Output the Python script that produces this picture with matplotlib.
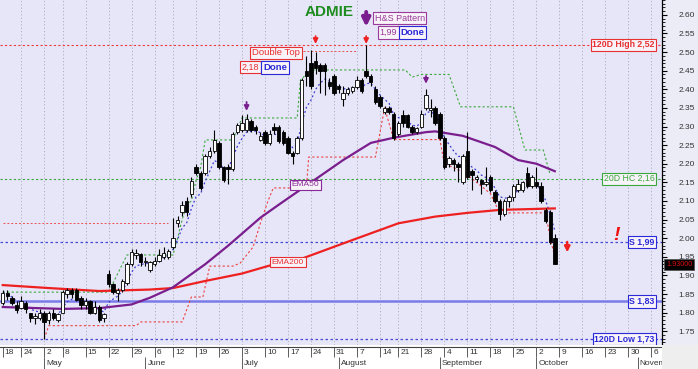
import numpy as np
import pandas as pd
import matplotlib
matplotlib.use("Agg")
import matplotlib.pyplot as plt
from matplotlib.ticker import FormatStrFormatter
from matplotlib.patches import Rectangle

plt.rcParams['font.family'] = ['Liberation Sans', 'DejaVu Sans']

# trading days, Athens exchange 2023 (chart runs on into November)
holidays = ['2023-05-01', '2023-06-05', '2023-08-15']
dates = pd.bdate_range('2023-04-18', '2023-11-08')
dates = dates[~dates.isin(pd.to_datetime(holidays))]

# daily OHLC, Apr 18 - Oct 6
opens = [1.826, 1.853, 1.840, 1.820, 1.812, 1.825, 1.800, 1.785, 1.785, 1.800,
         1.780, 1.800, 1.780, 1.800, 1.850, 1.860, 1.860, 1.840, 1.820, 1.830,
         1.800, 1.815, 1.785, 1.905, 1.878, 1.852, 1.860, 1.880, 1.930, 1.955,
         1.958, 1.935, 1.915, 1.930, 1.940, 1.950, 1.950, 1.975, 2.040, 2.070,
         2.100, 2.120, 2.190, 2.175, 2.175, 2.220, 2.235, 2.256, 2.190, 2.190,
         2.185, 2.285, 2.290, 2.290, 2.315, 2.300, 2.265, 2.285, 2.255, 2.300,
         2.300, 2.285, 2.270, 2.230, 2.230, 2.270, 2.450, 2.470, 2.475, 2.465,
         2.465, 2.420, 2.435, 2.410, 2.375, 2.390, 2.395, 2.405, 2.425, 2.450,
         2.435, 2.400, 2.380, 2.340, 2.350, 2.335, 2.280, 2.330, 2.330, 2.300,
         2.285, 2.300, 2.350, 2.345, 2.350, 2.335, 2.270, 2.200, 2.210, 2.200,
         2.150, 2.235, 2.180, 2.160, 2.157, 2.145, 2.165, 2.125, 2.100, 2.065,
         2.100, 2.110, 2.130, 2.130, 2.175, 2.140, 2.150, 2.140, 2.075, 2.070,
         2.000]
highs = [1.860, 1.860, 1.845, 1.830, 1.845, 1.830, 1.800, 1.800, 1.810, 1.805,
         1.805, 1.810, 1.800, 1.860, 1.865, 1.865, 1.865, 1.845, 1.840, 1.835,
         1.830, 1.820, 1.800, 1.915, 1.880, 1.865, 1.890, 1.935, 1.970, 1.970,
         1.960, 1.950, 1.940, 1.950, 1.970, 1.975, 1.970, 2.055, 2.060, 2.100,
         2.110, 2.165, 2.200, 2.180, 2.225, 2.245, 2.290, 2.260, 2.195, 2.200,
         2.285, 2.310, 2.330, 2.335, 2.320, 2.305, 2.285, 2.290, 2.290, 2.310,
         2.305, 2.290, 2.275, 2.235, 2.275, 2.430, 2.490, 2.505, 2.500, 2.470,
         2.470, 2.430, 2.440, 2.415, 2.410, 2.405, 2.410, 2.435, 2.430, 2.520,
         2.440, 2.410, 2.385, 2.355, 2.355, 2.340, 2.315, 2.345, 2.335, 2.305,
         2.300, 2.345, 2.400, 2.375, 2.355, 2.340, 2.275, 2.220, 2.215, 2.205,
         2.225, 2.285, 2.185, 2.170, 2.160, 2.190, 2.170, 2.130, 2.105, 2.105,
         2.115, 2.145, 2.160, 2.155, 2.190, 2.170, 2.190, 2.150, 2.080, 2.075,
         2.010]
lows = [1.820, 1.835, 1.820, 1.800, 1.810, 1.800, 1.775, 1.770, 1.780, 1.730,
        1.770, 1.780, 1.775, 1.800, 1.840, 1.840, 1.830, 1.810, 1.810, 1.795,
        1.795, 1.775, 1.775, 1.870, 1.850, 1.830, 1.855, 1.875, 1.925, 1.945,
        1.925, 1.925, 1.910, 1.925, 1.935, 1.945, 1.945, 1.970, 2.030, 2.060,
        2.060, 2.110, 2.170, 2.130, 2.170, 2.215, 2.230, 2.185, 2.150, 2.145,
        2.180, 2.280, 2.285, 2.285, 2.285, 2.280, 2.260, 2.250, 2.250, 2.280,
        2.255, 2.250, 2.225, 2.200, 2.225, 2.265, 2.410, 2.400, 2.440, 2.390,
        2.385, 2.400, 2.385, 2.390, 2.355, 2.385, 2.390, 2.400, 2.390, 2.430,
        2.410, 2.360, 2.350, 2.335, 2.335, 2.265, 2.275, 2.300, 2.295, 2.280,
        2.280, 2.295, 2.345, 2.325, 2.305, 2.265, 2.185, 2.190, 2.180, 2.150,
        2.145, 2.160, 2.130, 2.150, 2.120, 2.140, 2.125, 2.095, 2.050, 2.060,
        2.085, 2.100, 2.125, 2.125, 2.135, 2.135, 2.135, 2.095, 2.040, 1.985,
        1.930]
closes = [1.853, 1.845, 1.825, 1.808, 1.830, 1.810, 1.785, 1.790, 1.800, 1.775,
          1.800, 1.785, 1.795, 1.855, 1.860, 1.850, 1.835, 1.820, 1.830, 1.800,
          1.815, 1.780, 1.795, 1.878, 1.855, 1.860, 1.885, 1.930, 1.962, 1.960,
          1.935, 1.940, 1.935, 1.940, 1.955, 1.960, 1.965, 2.000, 2.050, 2.090,
          2.070, 2.155, 2.175, 2.135, 2.220, 2.235, 2.265, 2.190, 2.157, 2.185,
          2.280, 2.305, 2.310, 2.320, 2.290, 2.290, 2.275, 2.255, 2.280, 2.290,
          2.260, 2.255, 2.230, 2.220, 2.270, 2.425, 2.435, 2.410, 2.457, 2.450,
          2.450, 2.410, 2.390, 2.400, 2.390, 2.400, 2.405, 2.425, 2.395, 2.435,
          2.420, 2.365, 2.355, 2.350, 2.340, 2.270, 2.310, 2.310, 2.300, 2.285,
          2.295, 2.335, 2.385, 2.350, 2.310, 2.270, 2.190, 2.215, 2.200, 2.190,
          2.220, 2.165, 2.170, 2.165, 2.145, 2.150, 2.130, 2.100, 2.065, 2.100,
          2.110, 2.140, 2.145, 2.150, 2.140, 2.165, 2.140, 2.100, 2.045, 1.990,
          1.930]

# moving averages (day index, value)
ema200_x = [0, 10, 21, 32, 37, 44, 52, 59, 65, 76, 86, 94, 101, 108, 120]
ema200_y = [1.874, 1.866, 1.858, 1.862, 1.866, 1.885, 1.905, 1.930, 1.945,
            1.995, 2.040, 2.058, 2.068, 2.076, 2.080]
ema50_x = [0, 13, 21, 28, 32, 37, 44, 49, 56, 60, 67, 74, 80, 85, 92, 94,
           100, 107, 112, 116, 120]
ema50_y = [1.815, 1.810, 1.812, 1.822, 1.840, 1.868, 1.930, 1.980, 2.055,
           2.090, 2.150, 2.210, 2.256, 2.270, 2.285, 2.287, 2.275, 2.245,
           2.210, 2.200, 2.180]

# trailing high / low step lines
upper_x = [0, 23, 27, 37, 38, 39, 40, 41, 42, 43, 44, 50, 52, 64, 64.7, 67,
           87.5, 89, 91, 97, 99.5, 111, 113.5, 117.5, 119]
upper_y = [1.855, 1.855, 1.955, 1.955, 2.000, 2.050, 2.090, 2.100, 2.155,
           2.190, 2.264, 2.264, 2.323, 2.323, 2.425, 2.452, 2.452, 2.433,
           2.440, 2.440, 2.353, 2.353, 2.237, 2.237, 2.170]
lower_x = [9, 10, 29, 30, 39, 41, 43.5, 45, 50, 51.6, 54.4, 56, 57.5, 58.8,
           66, 66.5, 81, 83, 85, 95, 96, 98, 101, 104, 106, 108, 118, 119, 120]
lower_y = [1.730, 1.765, 1.765, 1.775, 1.775, 1.842, 1.842, 1.925, 1.925,
           1.933, 1.976, 2.040, 2.095, 2.135, 2.135, 2.218, 2.218, 2.350,
           2.265, 2.265, 2.200, 2.190, 2.170, 2.140, 2.120, 2.068, 2.068,
           2.000, 1.950]

# horizontal levels
high_120d = 2.52
hc_20d = 2.16
support_1 = 1.99
support_2 = 1.83
low_120d = 1.73
last_close = 1.93

fig = plt.figure(figsize=(6.98, 3.69), dpi=100, facecolor='#ececf7')
ax = fig.add_axes([0, 24 / 369, 662 / 698, 345 / 369])
axd = fig.add_axes([0, 0, 662 / 698, 24 / 369])
fig.patches.append(Rectangle((662 / 698, 0), 36 / 698, 24 / 369,
                             transform=fig.transFigure, fc='#eeeeee', ec='none'))

x = np.arange(len(closes))
o, h, l, c = map(np.array, (opens, highs, lows, closes))

ax.set_facecolor('#e6e6f8')
ax.set_xlim(-0.6, 143.3)
ax.set_ylim(1.713, 2.640)

# week / month positions
week_idx = [i for i, d in enumerate(dates)
            if i == 0 or d.isocalendar().week != dates[i - 1].isocalendar().week]
month_idx = [i for i, d in enumerate(dates) if i > 0 and d.month != dates[i - 1].month]

for i in week_idx[1:]:
    ax.axvline(i, color='#a8a8b8', ls=(0, (1.5, 2.5)), lw=0.6, zorder=0.5)

# level lines
ax.axhline(high_120d, color='#ee3b3b', ls=(0, (2, 2)), lw=0.8, zorder=1)
ax.axhline(hc_20d, color='#3ca83c', ls=(0, (2, 2)), lw=0.8, zorder=1)
ax.axhline(support_1, color='#4848d8', ls=(0, (2, 2)), lw=0.9, zorder=1)
ax.axhline(support_2, color='#7b7be8', lw=1.8, zorder=1)
ax.axhline(low_120d, color='#4848d8', ls=(0, (2, 2)), lw=0.9, zorder=1)

# older pattern lines
ax.plot([0, 36], [2.04, 2.04], color='#ee5050', ls=(0, (2, 2)), lw=0.7, zorder=1)
ax.plot([65.3, 77], [2.503, 2.503], color='#ee5050', ls=(0, (2, 2)), lw=0.7, zorder=1)

# step lines and averages
ax.plot(upper_x, upper_y, color='#3ca83c', ls=(0, (2, 2)), lw=0.8, zorder=2)
ax.plot(lower_x, lower_y, color='#ee4040', ls=(0, (2, 2)), lw=0.8, zorder=2)
ema_fast = pd.Series(closes).ewm(span=5, adjust=False).mean()
ax.plot(x, ema_fast, color='#3c3cd0', ls=(0, (1.5, 2)), lw=0.9, zorder=2)
ax.plot(ema200_x, ema200_y, color='#ee2020', lw=1.6, zorder=2.5)
ax.plot(ema50_x, ema50_y, color='#7a1e8e', lw=1.6, zorder=2.5)

# candles
up = c >= o
ax.vlines(x, l, h, color='black', lw=0.8, zorder=3)
ax.bar(x, c - o, bottom=o, width=0.74, color=np.where(up, 'white', 'black'),
       edgecolor='black', lw=0.6, zorder=4)


def label(xv, yv, s, color, bold=False, fc='#f7f3f9', size=6.3, trans=None, ha='center'):
    ax.text(xv, yv, s, color=color, fontsize=size, ha=ha, va='center',
            fontweight='bold' if bold else 'normal', zorder=6,
            transform=trans if trans is not None else ax.transData,
            bbox=dict(boxstyle='square,pad=0.18', fc=fc, ec=color, lw=0.8))


label(59.4, 2.498, 'Double Top', '#e83030', size=6.8)
label(53.9, 2.459, '2,18', '#e83030', size=6.5)
label(59.2, 2.459, 'Done', '#2a2ad8', bold=True, size=6.8)
label(86.3, 2.591, 'H&S Pattern', '#9a3a9a', size=6.5)
label(83.8, 2.553, '1,99', '#9a3a9a', size=6.5)
label(89.0, 2.553, 'Done', '#2a2ad8', bold=True, size=6.8)
label(65.8, 2.143, 'EMA50', '#8a2a9a', size=6)
label(62.0, 1.935, 'EMA200', '#e83030', size=6)

yt = ax.get_yaxis_transform()
label(0.989, high_120d, '120D High 2,52', '#e83030', bold=True, trans=yt, ha='right')
label(0.989, hc_20d, '20D HC 2,16', '#3ca83c', trans=yt, ha='right')
label(0.989, support_1, 'S 1,99', '#2a2ad8', bold=True, trans=yt, ha='right')
label(0.989, support_2, 'S 1,83', '#2a2ad8', bold=True, trans=yt, ha='right')
label(0.989, low_120d, '120D Low 1,73', '#2a2ad8', bold=True, trans=yt, ha='right')

ax.text(1.006, last_close, '1.93000', transform=yt, color='#dd1010', fontsize=5.2,
        ha='left', va='center', zorder=7, clip_on=False,
        bbox=dict(boxstyle='square,pad=0.25', fc='black', ec='#555555', lw=0.6))

ax.text(71.0, 2.607, 'ADMIE', color='#1e8c1e', fontsize=11, fontweight='bold',
        ha='center', va='center')
ax.text(133.4, 2.008, '!', color='#ee1010', fontsize=14, fontweight='bold',
        fontstyle='italic', ha='center', va='center')


def arrow(xv, tail, tip, color, lw=1.3, scale=7):
    ax.annotate('', xy=(xv, tip), xytext=(xv, tail),
                arrowprops=dict(arrowstyle='-|>', color=color, lw=lw,
                                shrinkA=0, shrinkB=0, mutation_scale=scale))


arrow(68, 2.543, 2.522, '#ee2020')
arrow(79, 2.543, 2.522, '#ee2020')
arrow(53, 2.366, 2.342, '#7a1e8e')
arrow(92, 2.436, 2.415, '#7a1e8e')
arrow(79, 2.608, 2.568, '#7a1e8e', lw=2.8, scale=12)
arrow(122.7, 1.990, 1.962, '#ee2020', lw=1.7, scale=8)

# right axis
for side in ['top', 'left', 'bottom']:
    ax.spines[side].set_visible(False)
ax.spines['right'].set_linewidth(0.9)
ax.yaxis.tick_right()
ax.set_yticks(np.round(np.arange(1.75, 2.601, 0.05), 2))
ax.set_yticks(np.round(np.arange(1.72, 2.64, 0.01), 2), minor=True)
ax.yaxis.set_major_formatter(FormatStrFormatter('%.2f'))
ax.tick_params(axis='y', which='major', length=3.8, width=0.8, pad=8,
               labelsize=6, labelcolor='#333333')
ax.tick_params(axis='y', which='minor', length=2, width=0.6)
ax.tick_params(axis='x', bottom=False, labelbottom=False)

# date strip
axd.set_xlim(ax.get_xlim())
axd.set_ylim(0, 1)
axd.set_facecolor('white')
axd.set_xticks([])
axd.set_yticks([])
for s in axd.spines.values():
    s.set_visible(False)
axd.axhline(0.92, color='#444444', lw=0.8)
for i in week_idx:
    axd.vlines(i, 0.5, 0.92, color='#444444', lw=0.6)
    axd.text(i + 0.45, 0.7, str(dates[i].day), fontsize=6, color='#333333',
             ha='left', va='center', clip_on=True)
for i in month_idx:
    axd.vlines(i, 0, 0.48, color='#444444', lw=0.6)
    axd.text(i + 0.45, 0.23, dates[i].strftime('%B'), fontsize=6, color='#333333',
             ha='left', va='center', clip_on=True)

fig.savefig('out.png', dpi=100, facecolor=fig.get_facecolor())
